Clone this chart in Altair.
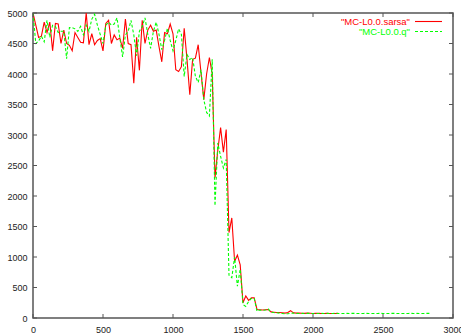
import altair as alt
import pandas as pd

# ---------------- data ----------------
X_STEP = 20  # episode spacing of the samples

red_values = [
    5000, 4800, 4600, 4620, 4850, 4680, 4850, 4380, 4830, 4820,
    4500, 4720, 4500, 4470, 4380, 4680, 4600, 4520, 4510, 5000,
    4480, 4660, 4480, 4550, 4580, 4380, 4830, 4880, 4500, 4640,
    4560, 4590, 4420, 4900, 4500, 4480, 3850, 4600, 4060, 4880,
    4500, 4720, 4800, 4700, 4720, 4450,
    4200, 4680, 4660, 4820, 4660, 4070, 4040, 4120, 4750, 4240,
    3660, 4240, 4260, 4480, 4020, 3580, 4000, 4270, 4000, 2300,
    2750, 3120, 2720, 3090, 1400, 1640, 930, 1030, 870, 250,
    360, 290, 330, 330, 140, 135, 130, 135, 140, 100,
    95, 90, 90, 85, 80, 90, 120, 85, 80, 80,
    78, 76, 80, 78, 75, 76, 78, 75, 74, 76,
    75, 74, 75, 76,
]

green_values = [
    5000, 4500, 4540, 4620, 4530, 4880, 4600, 4800, 4780, 4680,
    4700, 4700, 4250, 4760, 4760, 4740, 4700, 4780, 4640, 4800,
    4700, 4900, 4980, 4800, 4650, 4500, 4800, 4850, 4800, 4820,
    4920, 4600, 4280, 4640, 4700, 4880, 4640, 4300, 4700, 4780,
    4920, 4650, 4420, 4700, 4850, 4650,
    4400, 4550, 4750, 4550, 4380, 4550, 4740, 4650, 3960, 4320,
    4240, 4270, 3960, 3860, 4070, 3580, 3370, 3310, 4240, 1840,
    2870, 2650, 2460, 2600, 700, 660, 1000, 520, 800, 220,
    190, 270, 320, 320, 110, 130, 125, 130, 150, 95,
    90, 85, 80, 75, 70, 70, 75, 80, 76, 74,
    75, 73, 76, 75, 74, 73, 75, 76, 74, 75,
    73, 74, 76, 75, 74, 73, 75, 74, 76, 75,
    73, 74, 75, 76, 74, 73, 75, 74, 76, 75,
    74, 73, 75, 76, 74, 75, 73, 74, 75, 76,
    74, 75, 73, 74, 75, 76, 75,
]

series_names = ['"MC-L0.0.sarsa"', '"MC-L0.0.q"']
series_colors = ["#ff0000", "#00ff00"]

x_ticks = [0, 500, 1000, 1500, 2000, 2500, 3000]
y_ticks = [0, 500, 1000, 1500, 2000, 2500, 3000, 3500, 4000, 4500, 5000]

# ---------------- layout / style ----------------
W, H = 420, 305
FONT = "Liberation Sans"
FRAME = "#555555"
TICK_LEN = 4

df_red = pd.DataFrame({
    "episode": [i * X_STEP for i in range(len(red_values))],
    "steps": red_values,
})
df_green = pd.DataFrame({
    "episode": [i * X_STEP for i in range(len(green_values))],
    "steps": green_values,
})
df_xt = pd.DataFrame({"episode": x_ticks})
df_yt = pd.DataFrame({"steps": y_ticks})

xscale = alt.Scale(domain=[0, 3000], nice=False, zero=False)
yscale = alt.Scale(domain=[0, 5000], nice=False)

xaxis = alt.Axis(values=x_ticks, ticks=False, domain=False, grid=False,
                 labelFont=FONT, labelFontSize=9, labelColor="#222222",
                 labelPadding=7, labelFlush=False, labelOverlap=False,
                 labelBound=False, title=None, format="d")
yaxis = alt.Axis(values=y_ticks, ticks=False, domain=False, grid=False,
                 labelFont=FONT, labelFontSize=9, labelColor="#222222",
                 labelPadding=6, labelFlush=False, labelOverlap=False,
                 title=None, format="d")

X = alt.X("episode:Q", scale=xscale, axis=xaxis)
Y = alt.Y("steps:Q", scale=yscale, axis=yaxis)

red_line = alt.Chart(df_red).mark_line(
    color=series_colors[0], strokeWidth=1.1, clip=True
).encode(x=X, y=Y)

green_line = alt.Chart(df_green).mark_line(
    color=series_colors[1], strokeWidth=1.1, strokeDash=[3, 2], clip=True
).encode(x=X, y=Y)

# inward ticks on all four sides (gnuplot style)
xt_bottom = alt.Chart(df_xt).mark_rule(color=FRAME, strokeWidth=1).encode(
    x=X, y=alt.value(H), y2=alt.value(H - TICK_LEN))
xt_top = alt.Chart(df_xt).mark_rule(color=FRAME, strokeWidth=1).encode(
    x=X, y=alt.value(0), y2=alt.value(TICK_LEN))
yt_left = alt.Chart(df_yt).mark_rule(color=FRAME, strokeWidth=1).encode(
    y=Y, x=alt.value(0), x2=alt.value(TICK_LEN))
yt_right = alt.Chart(df_yt).mark_rule(color=FRAME, strokeWidth=1).encode(
    y=Y, x=alt.value(W), x2=alt.value(W - TICK_LEN))

# legend (label then line sample, top-right inside)
LEG_TEXT_X = 377
LEG_LINE_X1, LEG_LINE_X2 = 382, 409
LEG_Y = [8.5, 18.5]

legend_layers = []
for i, (name, col) in enumerate(zip(series_names, series_colors)):
    ldf = pd.DataFrame({"name": [name]})
    legend_layers.append(
        alt.Chart(ldf).mark_text(
            align="right", baseline="middle", color=col,
            font=FONT, fontSize=9.5
        ).encode(text="name:N", x=alt.value(LEG_TEXT_X), y=alt.value(LEG_Y[i]))
    )
    rule_kwargs = dict(color=col, strokeWidth=1.1)
    if i == 1:
        rule_kwargs["strokeDash"] = [3, 2]
    legend_layers.append(
        alt.Chart(ldf).mark_rule(**rule_kwargs).encode(
            x=alt.value(LEG_LINE_X1), x2=alt.value(LEG_LINE_X2),
            y=alt.value(LEG_Y[i]))
    )

chart = alt.layer(
    red_line, green_line, xt_bottom, xt_top, yt_left, yt_right, *legend_layers
).properties(
    width=W, height=H,
    autosize=alt.AutoSizeParams(type="none"),
    padding={"left": 33, "top": 13, "right": 8, "bottom": 17},
    background="white",
).configure_view(
    stroke=FRAME, strokeWidth=1.5
)

chart.save("out.html", embed_options={"renderer": "svg", "actions": False})
